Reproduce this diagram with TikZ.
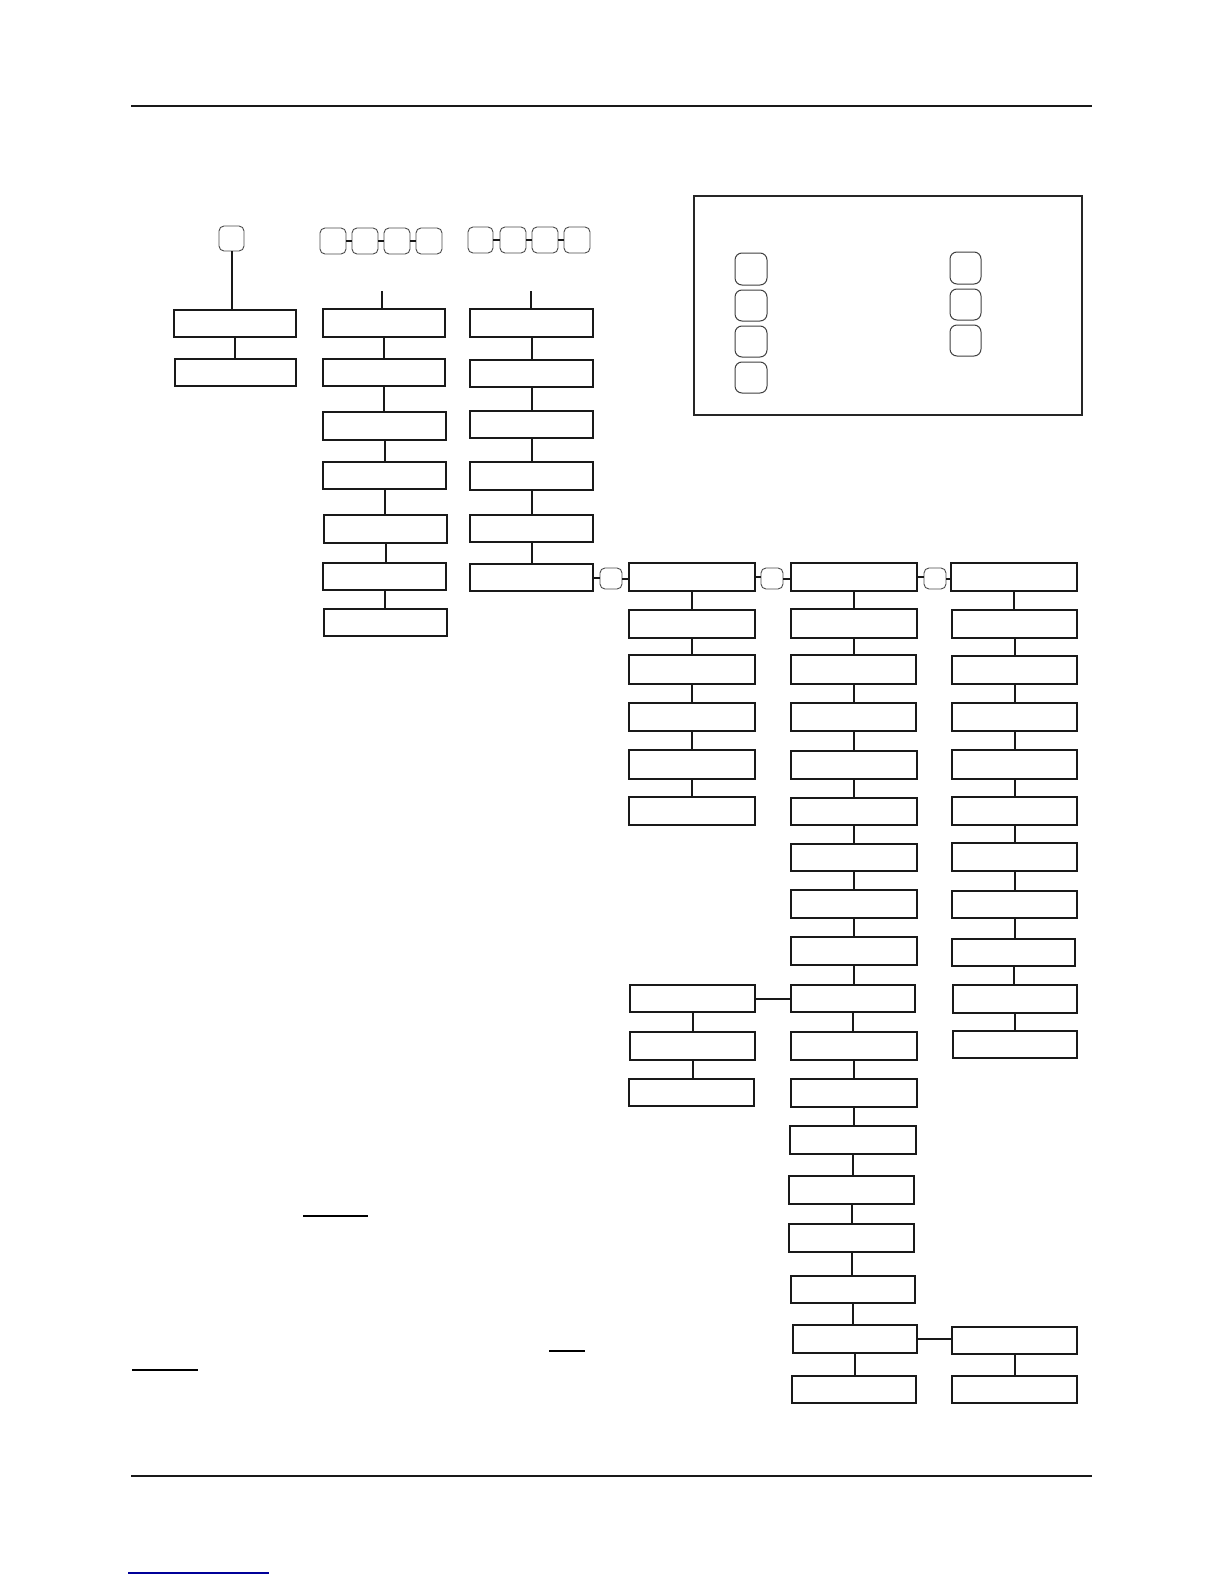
\documentclass[tikz,border=0pt]{standalone}
\usetikzlibrary{fit}
\begin{document}
\begin{tikzpicture}[x=1pt,y=-1pt,
  bx/.style={draw=black!90, line width=1.1pt, inner sep=0pt},
  keyb/.style={draw=black!70, line width=0.9pt, rounded corners=5pt, inner sep=0pt},
  lkey/.style={draw=black!75, line width=1pt, rounded corners=7pt, inner sep=0pt},
  conn/.style={line width=2pt, draw=black!90},
  rulel/.style={line width=2pt, draw=black!90}]
\useasboundingbox[fill=white] (0,0) rectangle (1224,1584);
\newcommand\mkbox[5]{\node[bx, fit={(#2,#3) (#4,#5)}] (#1) {};}
\newcommand\mkkey[6][keyb]{\node[#1, fit={(#3,#4) (#5,#6)}] (#2) {};}
% rules
\draw[rulel] (131,106) -- (1092,106);
\draw[rulel] (131,1476) -- (1092,1476);
\draw[line width=1.3pt, draw=blue!60!black] (128,1573) -- (269,1573);
% underlines
\draw[line width=1.4pt] (303,1216) -- (368,1216);
\draw[line width=1.4pt] (549,1351) -- (585,1351);
\draw[line width=1.4pt] (132,1370) -- (198,1370);
% legend
\node[draw=black!85, line width=1.1pt, inner sep=0pt, fit={(694,196) (1082,415)}] (legend) {};
\mkkey[lkey]{L1}{735}{253}{767}{285}
\mkkey[lkey]{L2}{735}{290}{767}{321}
\mkkey[lkey]{L3}{735}{326}{767}{357}
\mkkey[lkey]{L4}{735}{362}{767}{393}
\mkkey[lkey]{R1}{950}{252}{981}{284}
\mkkey[lkey]{R2}{950}{289}{981}{320}
\mkkey[lkey]{R3}{950}{325}{981}{356}
% keys
\mkkey{kA}{219}{226}{244}{251}
\mkkey{kB1}{320}{228}{346}{254}
\mkkey{kB2}{352}{228}{378}{254}
\mkkey{kB3}{384}{228}{410}{254}
\mkkey{kB4}{416}{228}{442}{254}
\mkkey{kC1}{468}{227}{493}{253}
\mkkey{kC2}{500}{227}{526}{253}
\mkkey{kC3}{532}{227}{558}{253}
\mkkey{kC4}{564}{227}{590}{253}
\mkkey{kD}{600}{568}{622}{589}
\mkkey{kE}{761}{568}{783}{589}
\mkkey{kF}{924}{568}{946}{589}
% boxes
\mkbox{A1}{174}{310}{296}{337}
\mkbox{A2}{175}{359}{296}{386}
\mkbox{B1}{323}{309}{445}{337}
\mkbox{B2}{323}{359}{445}{386}
\mkbox{B3}{323}{412}{446}{440}
\mkbox{B4}{323}{462}{446}{489}
\mkbox{B5}{324}{515}{447}{543}
\mkbox{B6}{323}{563}{446}{590}
\mkbox{B7}{324}{609}{447}{636}
\mkbox{C1}{470}{309}{593}{337}
\mkbox{C2}{470}{360}{593}{387}
\mkbox{C3}{470}{411}{593}{438}
\mkbox{C4}{470}{462}{593}{490}
\mkbox{C5}{470}{515}{593}{542}
\mkbox{C6}{470}{564}{593}{591}
\mkbox{D1}{629}{563}{755}{591}
\mkbox{D2}{629}{610}{755}{638}
\mkbox{D3}{629}{655}{755}{684}
\mkbox{D4}{629}{703}{755}{731}
\mkbox{D5}{629}{750}{755}{779}
\mkbox{D6}{629}{797}{755}{825}
\mkbox{E1}{791}{563}{917}{591}
\mkbox{E2}{791}{609}{917}{638}
\mkbox{E3}{791}{655}{916}{684}
\mkbox{E4}{791}{703}{916}{731}
\mkbox{E5}{791}{751}{917}{779}
\mkbox{E6}{791}{798}{917}{825}
\mkbox{E7}{791}{844}{917}{871}
\mkbox{E8}{791}{890}{917}{918}
\mkbox{E9}{791}{937}{917}{965}
\mkbox{E10}{791}{985}{915}{1012}
\mkbox{E11}{791}{1032}{917}{1060}
\mkbox{E12}{791}{1079}{917}{1107}
\mkbox{E13}{790}{1126}{916}{1154}
\mkbox{E14}{789}{1176}{914}{1204}
\mkbox{E15}{789}{1224}{914}{1252}
\mkbox{E16}{791}{1276}{915}{1303}
\mkbox{E17}{793}{1325}{917}{1353}
\mkbox{E18}{792}{1376}{916}{1403}
\mkbox{F1}{951}{563}{1077}{591}
\mkbox{F2}{952}{610}{1077}{638}
\mkbox{F3}{952}{656}{1077}{684}
\mkbox{F4}{952}{703}{1077}{731}
\mkbox{F5}{952}{750}{1077}{779}
\mkbox{F6}{952}{797}{1077}{825}
\mkbox{F7}{952}{843}{1077}{871}
\mkbox{F8}{952}{891}{1077}{918}
\mkbox{F9}{952}{939}{1075}{966}
\mkbox{F10}{953}{985}{1077}{1013}
\mkbox{F11}{953}{1031}{1077}{1058}
\mkbox{G1}{952}{1327}{1077}{1354}
\mkbox{G2}{952}{1376}{1077}{1403}
\mkbox{H1}{630}{985}{755}{1012}
\mkbox{H2}{630}{1032}{755}{1060}
\mkbox{H3}{629}{1079}{754}{1106}
% stubs
\coordinate (sB) at (382,291);
\coordinate (sC) at (531,291);
\draw[conn] (sB) -- (sB |- B1.north);
\draw[conn] (sC) -- (sC |- C1.north);
\draw[conn] (kA.south) -- (kA.south |- A1.north);
% key chains
\foreach \a/\b in {kB1/kB2,kB2/kB3,kB3/kB4,kC1/kC2,kC2/kC3,kC3/kC4}
  \draw[conn] (\a.east) -- (\a.east -| \b.west);
% horizontal links
\foreach \a/\b in {C6/kD,kD/D1,D1/kE,kE/E1,E1/kF,kF/F1,H1/E10,E17/G1}
  \draw[conn] (\a.east) -- (\a.east -| \b.west);
% vertical links
\foreach \a/\b in {A1/A2,B1/B2,B2/B3,B3/B4,B4/B5,B5/B6,B6/B7,
  C1/C2,C2/C3,C3/C4,C4/C5,C5/C6,
  D1/D2,D2/D3,D3/D4,D4/D5,D5/D6,
  E1/E2,E2/E3,E3/E4,E4/E5,E5/E6,E6/E7,E7/E8,E8/E9,E9/E10,E10/E11,E11/E12,E12/E13,E13/E14,E14/E15,E15/E16,E16/E17,E17/E18,
  F1/F2,F2/F3,F3/F4,F4/F5,F5/F6,F6/F7,F7/F8,F8/F9,F9/F10,F10/F11,
  G1/G2,H1/H2,H2/H3}
  \draw[conn] (\a.south) -- (\a.south |- \b.north);
\end{tikzpicture}
\end{document}
